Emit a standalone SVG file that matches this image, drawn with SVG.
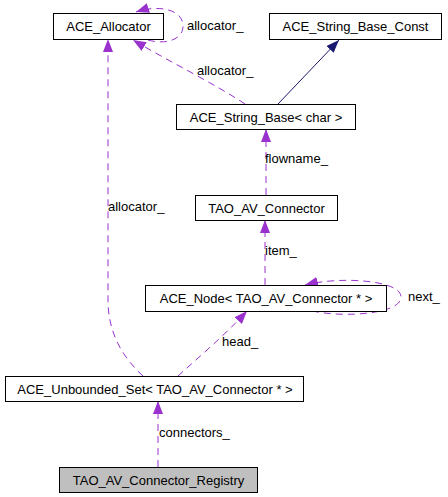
<svg xmlns="http://www.w3.org/2000/svg" width="448" height="497" viewBox="0 0 448 497">
<style>
text{font-family:"Liberation Sans",Arial,sans-serif;font-size:13px;fill:#000}
.n rect{fill:#fff;stroke:#000;stroke-width:1}
.n text{text-anchor:middle}
.e{fill:none;stroke:#9a32cd;stroke-width:1;stroke-dasharray:7,5}
.s{fill:none;stroke:#191970;stroke-width:1}
</style>
<defs>
<marker id="ap" viewBox="0 0 13 10" refX="13" refY="5" markerWidth="13" markerHeight="10" markerUnits="userSpaceOnUse" orient="auto"><path d="M0,0 L13,5 L0,10 Z" fill="#9a32cd"/></marker>
<marker id="an" viewBox="0 0 13 10" refX="13" refY="5" markerWidth="13" markerHeight="10" markerUnits="userSpaceOnUse" orient="auto"><path d="M0,0 L13,5 L0,10 Z" fill="#191970"/></marker>
</defs>
<rect width="448" height="497" fill="#fff"/>
<g id="edges">
<path class="e" d="M148,40 C165,45 183,40 183,26 C183,10 160,4 136,12" marker-end="url(#ap)"/>
<text x="187" y="30">allocator_</text>
<path class="e" d="M245,104 C215,84 170,62 133,40" marker-end="url(#ap)"/>
<text x="197" y="75">allocator_</text>
<path class="s" d="M278,104 L339,40" marker-end="url(#an)"/>
<path class="e" d="M266,195 L266,129" marker-end="url(#ap)"/>
<text x="265" y="163">flowname_</text>
<path class="e" d="M265,285 L265,220" marker-end="url(#ap)"/>
<text x="265" y="255">item_</text>
<path class="e" d="M312,311 C345,318 401,314 401,297 C401,280 340,276 305,285" marker-end="url(#ap)"/>
<text x="408" y="301">next_</text>
<path class="e" d="M143,376 C120,355 108,330 108,300 L108,39" marker-end="url(#ap)"/>
<text x="108" y="211">allocator_</text>
<path class="e" d="M178,376 C200,356 225,335 247,311" marker-end="url(#ap)"/>
<text x="222" y="346">head_</text>
<path class="e" d="M158,467 L158,401" marker-end="url(#ap)"/>
<text x="159" y="437">connectors_</text>
</g>
<g id="ACE_Allocator" class="n"><rect x="53.5" y="13.5" width="110" height="26"/><text x="108.5" y="31">ACE_Allocator</text></g>
<g id="ACE_String_Base_Const" class="n"><rect x="269.5" y="13.5" width="172" height="26"/><text x="355.5" y="31">ACE_String_Base_Const</text></g>
<g id="ACE_String_Base_char" class="n"><rect x="176.5" y="104.5" width="179" height="25"/><text x="266" y="121.5">ACE_String_Base&lt; char &gt;</text></g>
<g id="TAO_AV_Connector" class="n"><rect x="195.5" y="195.5" width="142" height="25"/><text x="266.5" y="212.5">TAO_AV_Connector</text></g>
<g id="ACE_Node" class="n"><rect x="145.5" y="285.5" width="241" height="26"/><text x="266" y="303">ACE_Node&lt; TAO_AV_Connector * &gt;</text></g>
<g id="ACE_Unbounded_Set" class="n"><rect x="5.5" y="376.5" width="298" height="25"/><text x="155" y="393.5">ACE_Unbounded_Set&lt; TAO_AV_Connector * &gt;</text></g>
<g id="TAO_AV_Connector_Registry" class="n"><rect x="59.5" y="467.5" width="198" height="25" style="fill:#bfbfbf"/><text x="158.5" y="484.5">TAO_AV_Connector_Registry</text></g>
</svg>
